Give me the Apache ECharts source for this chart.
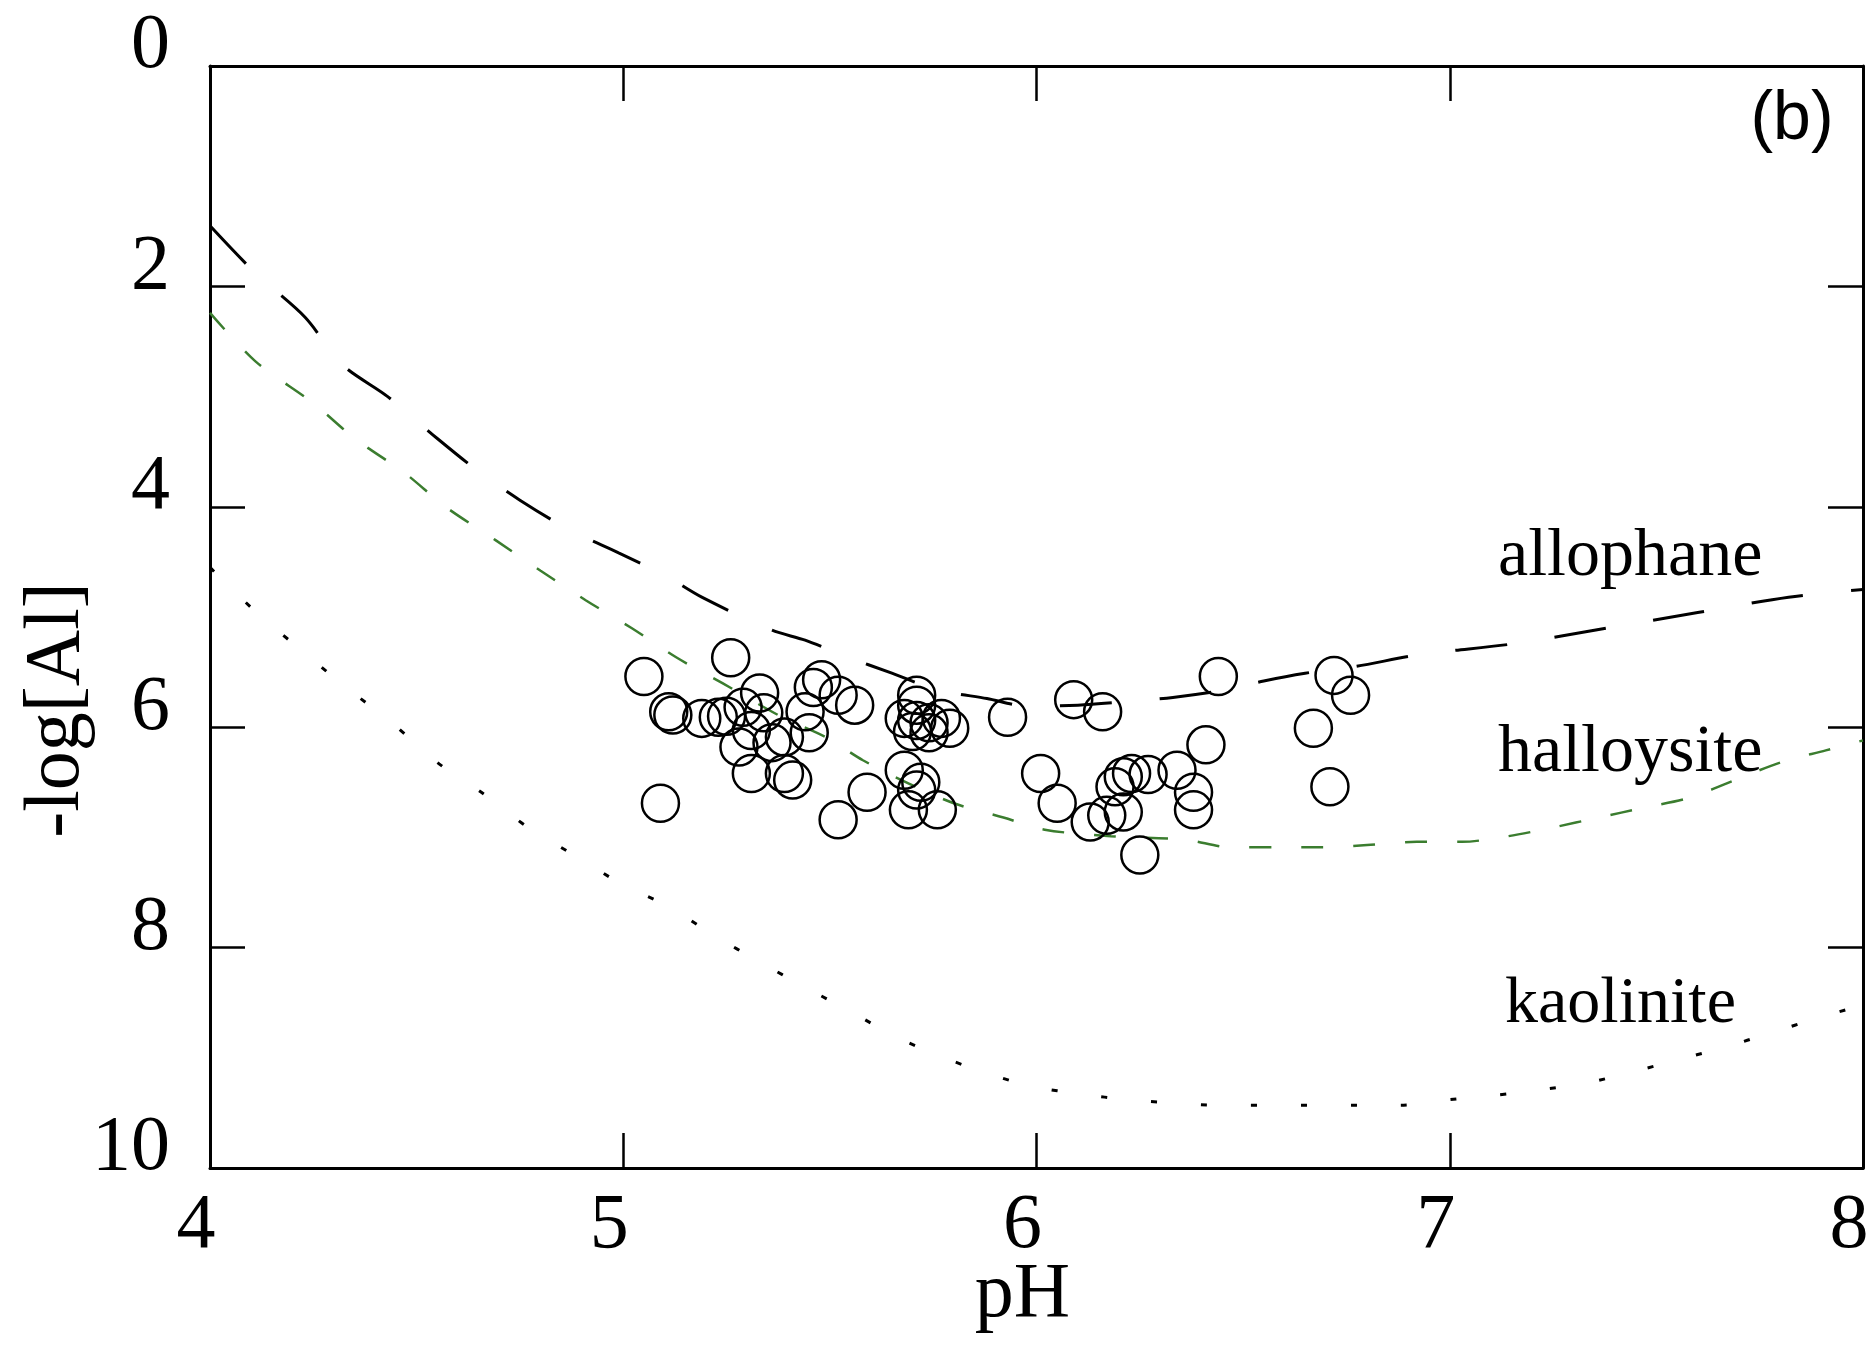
<!DOCTYPE html>
<html>
<head>
<meta charset="utf-8">
<script src="https://cdn.jsdelivr.net/npm/echarts@6/dist/echarts.min.js"></script>
<style>
  html, body { margin: 0; padding: 0; background: #fff; }
  #main { width: 1873px; height: 1364px; }
</style>
</head>
<body>
<div id="main"></div>
<script>
// 观测点 pH 与 -log[Al]
const phObs = [5.05, 5.26, 5.11, 5.12, 5.19, 5.23, 5.25, 5.29, 5.33, 5.31, 5.28, 5.31, 5.34, 5.39, 5.45,
  5.46, 5.48, 5.52, 5.56, 5.44, 5.39, 5.41, 5.09, 5.52, 5.59, 5.36,
  5.71, 5.71, 5.68, 5.71, 5.74, 5.77, 5.79, 5.74, 5.70, 5.68, 5.72, 5.71, 5.69, 5.76,
  5.93, 6.09, 6.16, 6.01, 6.05, 6.13, 6.17, 6.19, 6.21, 6.23, 6.27, 6.21, 6.25,
  6.34, 6.41, 6.38, 6.38, 6.44, 6.72, 6.76, 6.67, 6.71]
const logAlObs = [5.54, 5.37, 5.86, 5.89, 5.92, 5.91, 5.90, 5.82, 5.69, 6.03, 6.18, 6.42, 5.87, 6.09, 6.05,
  5.64, 5.57, 5.71, 5.80, 5.86, 6.42, 6.48, 6.69, 6.84, 6.59, 6.14,
  5.71, 5.80, 5.92, 5.94, 5.96, 5.92, 6.01, 6.05, 6.04, 6.39, 6.50, 6.57, 6.75, 6.75,
  5.91, 5.75, 5.86, 6.42, 6.69, 6.86, 6.80, 6.54, 6.45, 6.42, 6.43, 6.77, 7.16,
  6.39, 6.16, 6.59, 6.75, 5.54, 5.53, 5.71, 6.01, 6.54]

// 溶解度曲线
const phAllophane = [4.0, 4.11, 4.23, 4.32, 4.43, 4.55, 4.65, 4.75, 4.87, 4.99, 5.10, 5.19, 5.36, 5.44,
  5.54, 5.65, 5.76, 5.88, 5.98, 6.10, 6.21, 6.33, 6.46, 6.55, 6.65, 6.77, 6.93, 7.16, 7.38, 7.60, 7.82, 8.0]
const allophane = [1.45, 1.88, 2.28, 2.71, 3.0, 3.38, 3.68, 3.94, 4.21, 4.42, 4.62, 4.82, 5.12, 5.21,
  5.36, 5.51, 5.66, 5.74, 5.81, 5.80, 5.77, 5.73, 5.66, 5.58, 5.51, 5.45, 5.34, 5.24, 5.10, 4.96, 4.82, 4.75]

const phHalloysite = [4.0, 4.11, 4.25, 4.35, 4.47, 4.57, 4.69, 4.80, 4.91, 5.02, 5.13, 5.24, 5.38, 5.49,
  5.58, 5.69, 5.80, 5.92, 6.02, 6.18, 6.36, 6.47, 6.58, 6.69, 6.80, 6.92, 7.03, 7.14, 7.25, 7.36, 7.47,
  7.58, 7.69, 7.80, 7.91, 8.0]
const halloysite = [2.24, 2.68, 3.06, 3.38, 3.69, 4.0, 4.30, 4.58, 4.85, 5.10, 5.37, 5.60, 5.90, 6.09,
  6.30, 6.51, 6.69, 6.82, 6.93, 6.99, 7.02, 7.09, 7.09, 7.09, 7.07, 7.04, 7.04, 6.99, 6.91, 6.82, 6.73,
  6.64, 6.48, 6.32, 6.21, 6.12]

const phKaolinite = [4.0, 4.11, 4.23, 4.33, 4.44, 4.55, 4.66, 4.77, 4.89, 4.99, 5.11, 5.22, 5.33, 5.44,
  5.55, 5.66, 5.77, 5.88, 5.99, 6.11, 6.22, 6.33, 6.44, 6.55, 6.66, 6.78, 6.88, 7.00, 7.11, 7.22, 7.33,
  7.44, 7.55, 7.66, 7.78, 7.89, 8.0]
const kaolinite = [4.55, 4.95, 5.33, 5.64, 5.96, 6.32, 6.60, 6.91, 7.18, 7.41, 7.63, 7.89, 8.13, 8.36,
  8.58, 8.81, 8.99, 9.14, 9.26, 9.33, 9.38, 9.41, 9.43, 9.43, 9.43, 9.43, 9.43, 9.38, 9.34, 9.29, 9.23,
  9.13, 9.02, 8.91, 8.77, 8.64, 8.52]

const xTicks = [4, 5, 6, 7, 8]
const yTicks = [0, 2, 4, 6, 8, 10]

function zip(xs, ys) {
  return xs.map((x, i) => [x, ys[i]])
}

const serif = '"Liberation Serif", "Times New Roman", serif'
const tickFont = 78

const chart = echarts.init(document.getElementById('main'))

const baseX = {
  type: 'value',
  min: xTicks[0],
  max: xTicks[xTicks.length - 1],
  interval: 1,
  splitLine: { show: false },
  axisLine: { onZero: false, lineStyle: { color: '#000', width: 3 } },
  axisTick: { inside: true, length: 35, lineStyle: { color: '#000', width: 2.5 } }
}
const baseY = {
  type: 'value',
  min: yTicks[0],
  max: yTicks[yTicks.length - 1],
  interval: 2,
  inverse: true,
  splitLine: { show: false },
  axisLine: { onZero: false, lineStyle: { color: '#000', width: 3 } },
  axisTick: { inside: true, length: 35, lineStyle: { color: '#000', width: 2.5 } }
}

const option = {
  animation: false,
  backgroundColor: '#fff',
  grid: { left: 210, right: 10, top: 66, bottom: 196, outerBoundsMode: 'none' },
  xAxis: [
    Object.assign({}, baseX, {
      position: 'bottom',
      axisLabel: {
        showMinLabel: true, showMaxLabel: true,
        fontFamily: serif, fontSize: tickFont, color: '#000',
        margin: 20, padding: [0, 28, 0, 0]
      },
      name: 'pH',
      nameLocation: 'middle',
      nameGap: 89,
      nameMoveOverlap: false,
      nameTextStyle: { fontFamily: serif, fontSize: tickFont, color: '#000', padding: [0, 28, 0, 0] }
    }),
    Object.assign({}, baseX, { position: 'top', axisLabel: { show: false } })
  ],
  yAxis: [
    Object.assign({}, baseY, {
      position: 'left',
      axisLabel: {
        showMinLabel: true, showMaxLabel: true,
        fontFamily: serif, fontSize: tickFont, color: '#000',
        margin: 40, verticalAlign: 'bottom', lineHeight: 38
      },
      name: '-log[Al]',
      nameLocation: 'middle',
      nameGap: 113,
      nameMoveOverlap: false,
      nameTextStyle: { fontFamily: serif, fontSize: tickFont, color: '#000', padding: [0, 186, 0, 0] }
    }),
    Object.assign({}, baseY, { position: 'right', axisLabel: { show: false } })
  ],
  series: [
    {
      name: 'allophane',
      type: 'line',
      data: zip(phAllophane, allophane),
      showSymbol: false,
      smooth: 0.3,
      lineStyle: { color: '#000', width: 3, type: [52, 48] },
      z: 2
    },
    {
      name: 'halloysite',
      type: 'line',
      data: zip(phHalloysite, halloysite),
      showSymbol: false,
      smooth: 0.3,
      lineStyle: { color: '#3b7d2f', width: 2.5, type: [22, 30] },
      z: 2
    },
    {
      name: 'kaolinite',
      type: 'line',
      data: zip(phKaolinite, kaolinite),
      showSymbol: false,
      smooth: 0.3,
      lineStyle: { color: '#000', width: 3, type: [6, 44] },
      z: 2
    },
    {
      name: 'samples',
      type: 'scatter',
      data: zip(phObs, logAlObs),
      symbol: 'circle',
      symbolSize: 37,
      itemStyle: { color: 'rgba(0,0,0,0)', borderColor: '#000', borderWidth: 2.5, opacity: 1 },
      z: 3
    }
  ],
  graphic: [
    { type: 'text', x: 1498, y: 557, style: { text: 'allophane', font: '68px ' + serif, fill: '#000', textAlign: 'left', textVerticalAlign: 'middle', align: 'left', verticalAlign: 'middle' } },
    { type: 'text', x: 1498, y: 753, style: { text: 'halloysite', font: '68px ' + serif, fill: '#000', textAlign: 'left', textVerticalAlign: 'middle', align: 'left', verticalAlign: 'middle' } },
    { type: 'text', x: 1505, y: 1005, style: { text: 'kaolinite', font: '66px ' + serif, fill: '#000', textAlign: 'left', textVerticalAlign: 'middle', align: 'left', verticalAlign: 'middle' } },
    { type: 'text', x: 1792, y: 120, style: { text: '(b)', font: '68px "Liberation Sans", Arial, sans-serif', fill: '#000', textAlign: 'center', textVerticalAlign: 'middle', align: 'center', verticalAlign: 'middle' } }
  ]
}

chart.setOption(option)
</script>
</body>
</html>
